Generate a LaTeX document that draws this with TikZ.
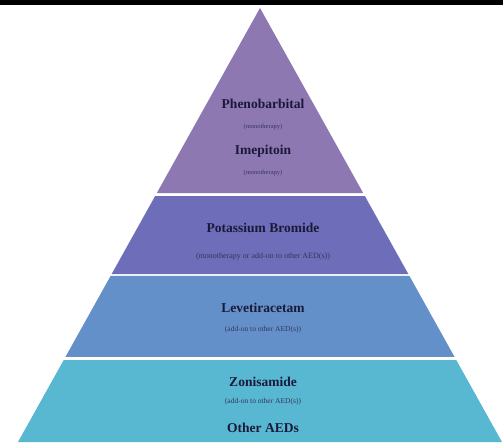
\documentclass[tikz,border=0pt]{standalone}
\usepackage{fontspec}
\setmainfont{Liberation Serif}
\usetikzlibrary{calc}
\definecolor{tierone}{HTML}{8E78B2}
\definecolor{tiertwo}{HTML}{6D6DB9}
\definecolor{tierthree}{HTML}{6490C9}
\definecolor{tierfour}{HTML}{58B7D1}
\definecolor{druginkk}{HTML}{1A1A38}
\definecolor{noteink}{HTML}{35355F}
\tikzset{drug/.style={font=\bfseries\fontsize{13.5}{15}\selectfont, text=druginkk, inner sep=0pt},
         note/.style={font=\fontsize{7.5}{9}\selectfont, text=noteink, inner sep=0pt}}

\begin{document}
\begin{tikzpicture}[x=1pt,y=-1pt]
        \fill[white] (0,0) rectangle (503,442); \useasboundingbox (0,0) rectangle (503,442);
        \fill[black] (0,0) rectangle (503,5);
        \coordinate (apex) at (260,8); \coordinate (bl) at (18,442); \coordinate (br) at (502,442);

        % the four tiers of the pyramid
        \fill[tierone] (apex) -- ($(apex)!0.4263!(br)$) -- ($(apex)!0.4263!(bl)$) -- cycle;
        \fill[tiertwo] ($(apex)!0.4332!(bl)$) -- ($(apex)!0.4332!(br)$) -- ($(apex)!0.6129!(br)$) -- ($(apex)!0.6129!(bl)$) -- cycle;
        \fill[tierthree] ($(apex)!0.6175!(bl)$) -- ($(apex)!0.6175!(br)$) -- ($(apex)!0.8041!(br)$) -- ($(apex)!0.8041!(bl)$) -- cycle;
        \fill[tierfour] ($(apex)!0.8111!(bl)$) -- ($(apex)!0.8111!(br)$) -- (br) -- (bl) -- cycle;

        \node[drug] (pheno) at (263,104) {Phenobarbital}; \node[note, font=\fontsize{6.5}{8}\selectfont] (phenonote) at (263,127) {(monotherapy)};
        \node[drug] (imep) at (263,151) {Imepitoin}; \node[note, font=\fontsize{6.5}{8}\selectfont] (imepnote) at (263,173) {(monotherapy)};
        \node[drug] (kbr) at (263,228) {Potassium Bromide}; \node[note, font=\fontsize{8}{9}\selectfont] (kbrnote) at (263,257) {(monotherapy or add-on to other AED(s))};
        \node[drug] (lev) at (263,308) {Levetiracetam}; \node[note] (levnote) at (263,330) {(add-on to other AED(s))};
        \node[drug] (zon) at (263,382) {Zonisamide}; \node[note] (zonnote) at (263,402) {(add-on to other AED(s))};
        \node[drug] (other) at (263,428) {Other AEDs};
    \end{tikzpicture}
\end{document}
